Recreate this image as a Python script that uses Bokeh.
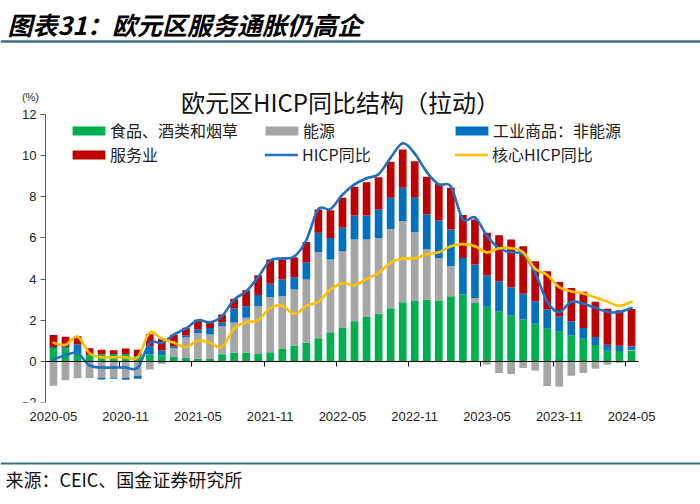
import pandas as pd
from bokeh.plotting import figure
from bokeh.models import (ColumnDataSource, Range1d, FixedTicker, Span, Label,
                          Legend, LegendItem, LinearAxis)
from bokeh.layouts import column
from bokeh.embed import file_html
from bokeh.resources import INLINE

# ---------------- data ----------------
months = [str(m) for m in pd.period_range("2020-05", "2024-05", freq="M")]

food = [0.65, 0.62, 0.37, 0.32, 0.34, 0.36, 0.36, 0.26, 0.33, 0.28,
        0.24, 0.17, 0.13, 0.11, 0.35, 0.42, 0.42, 0.38, 0.44, 0.60,
        0.76, 0.91, 1.12, 1.41, 1.62, 1.95, 2.16, 2.32, 2.58, 2.87,
        2.94, 3.00, 2.96, 3.16, 3.25, 2.84, 2.65, 2.43, 2.24, 2.03,
        1.83, 1.58, 1.46, 1.27, 1.10, 0.80, 0.52, 0.50, 0.52]
energy = [-1.18, -0.92, -0.82, -0.77, -0.80, -0.81, -0.81, -0.70, -0.40, -0.13,
          0.41, 0.99, 1.24, 1.20, 1.36, 1.47, 1.70, 2.30, 2.68, 2.56,
          2.73, 3.07, 4.18, 3.54, 3.73, 3.97, 3.76, 3.68, 3.86, 3.94,
          3.34, 2.44, 2.05, 1.46, -0.07, 0.24, -0.15, -0.57, -0.61, -0.32,
          -0.45, -1.20, -1.22, -0.70, -0.57, -0.36, -0.16, -0.08, 0.03]
neig = [0.05, 0.08, 0.45, -0.03, -0.08, -0.03, -0.08, -0.15, 0.39, 0.26,
        0.08, 0.10, 0.18, 0.31, 0.18, 0.68, 0.56, 0.55, 0.65, 0.82,
        0.60, 0.82, 0.95, 1.05, 1.14, 1.17, 1.17, 1.38, 1.51, 1.63,
        1.67, 1.70, 1.84, 1.79, 1.78, 1.63, 1.52, 1.46, 1.36, 1.26,
        1.09, 0.94, 0.73, 0.68, 0.52, 0.39, 0.29, 0.26, 0.18]
services = [0.58, 0.50, 0.40, 0.32, 0.23, 0.18, 0.27, 0.31, 0.60, 0.56,
            0.56, 0.37, 0.47, 0.30, 0.39, 0.47, 0.78, 0.96, 1.18, 0.97,
            0.96, 1.00, 1.13, 1.35, 1.46, 1.40, 1.62, 1.57, 1.75, 1.86,
            1.78, 1.83, 1.79, 2.03, 2.08, 2.19, 2.08, 2.24, 2.32, 2.31,
            1.95, 1.86, 1.67, 1.62, 1.76, 1.71, 1.75, 1.72, 1.82]
hicp = [0.1, 0.3, 0.4, -0.2, -0.3, -0.3, -0.3, -0.3, 0.9, 0.9,
        1.3, 1.6, 2.0, 1.9, 2.2, 3.0, 3.4, 4.1, 4.9, 5.0,
        5.1, 5.9, 7.4, 7.4, 8.1, 8.6, 8.9, 9.1, 9.9, 10.6,
        10.1, 9.2, 8.6, 8.5, 6.9, 7.0, 6.1, 5.5, 5.3, 5.2,
        4.3, 2.9, 2.4, 2.9, 2.8, 2.6, 2.4, 2.4, 2.6]
core = [0.9, 0.8, 1.2, 0.4, 0.2, 0.2, 0.2, 0.2, 1.4, 1.1,
        0.9, 0.7, 1.0, 0.9, 0.7, 1.6, 1.9, 2.0, 2.6, 2.7,
        2.3, 2.7, 2.9, 3.5, 3.8, 3.7, 4.0, 4.3, 4.8, 5.0,
        5.0, 5.2, 5.3, 5.6, 5.7, 5.6, 5.3, 5.5, 5.5, 5.3,
        4.5, 4.2, 3.6, 3.4, 3.3, 3.1, 2.9, 2.7, 2.9]

comp_names = ["食品、酒类和烟草", "能源", "工业商品：非能源", "服务业"]
comp_values = [food, energy, neig, services]
comp_colors = ["#00B050", "#A6A6A6", "#0070C0", "#C00000"]
line_names = ["HICP同比", "核心HICP同比"]
line_colors = ["#1F72C2", "#FFC000"]

title_text = "图表31：欧元区服务通胀仍高企"
chart_title = "欧元区HICP同比结构（拉动）"
unit_text = "(%)"
source_text = "来源：CEIC、国金证券研究所"

CJK = "Noto Sans CJK SC"
LAT = "Liberation Sans"
RULE = "#3F6E8A"

n = len(months)
xs = list(range(n))
label_idx = [i for i, m in enumerate(months) if m.endswith("-05") or m.endswith("-11")]

# axis extents (data units) and frame geometry (pixels)
X_LO, X_HI = -0.66, 48.58
Y_LO, Y_HI = -2, 12
AX_LEFT_PX, AX_W_PX, RIGHT_PAD_PX = 45, 593, 62
AX_TOP_PX, AX_H_PX = 64, 288

# ---------------- header ----------------
hdr = figure(width=700, height=50, x_range=Range1d(0, 700), y_range=Range1d(0, 50),
             toolbar_location=None, output_backend="svg", min_border=0,
             x_axis_type=None, y_axis_type=None, outline_line_color=None)
hdr.grid.visible = False
hdr.add_layout(Label(x=7, y=27, text=title_text, text_font=CJK, text_font_size="25px",
                     text_font_style="bold italic", text_color="#000000",
                     text_baseline="middle"))
hdr.add_layout(Span(location=9, dimension="width", line_color=RULE, line_width=2.5))

# ---------------- main chart ----------------
px_x = (X_HI - X_LO) / AX_W_PX
x_start = X_LO - AX_LEFT_PX * px_x
x_end = X_HI + RIGHT_PAD_PX * px_x
y_end = Y_HI + AX_TOP_PX * (Y_HI - Y_LO) / AX_H_PX
p = figure(width=700, height=405, x_range=Range1d(x_start, x_end), y_range=Range1d(Y_LO, y_end),
           toolbar_location=None, output_backend="svg",
           min_border_left=0, min_border_right=0, min_border_top=0, min_border_bottom=53,
           outline_line_color=None)
p.grid.visible = False

pos_base = [0.0] * n
neg_base = [0.0] * n
bar_renderers = []
for name, vals, col in zip(comp_names, comp_values, comp_colors):
    bottoms, tops = [], []
    for i, v in enumerate(vals):
        if v >= 0:
            bottoms.append(pos_base[i]); tops.append(pos_base[i] + v); pos_base[i] += v
        else:
            tops.append(neg_base[i]); bottoms.append(neg_base[i] + v); neg_base[i] += v
    src = ColumnDataSource(dict(x=xs, bottom=bottoms, top=tops))
    r = p.vbar(x="x", bottom="bottom", top="top", width=0.64, source=src,
               fill_color=col, line_color=None)
    bar_renderers.append(r)


def smooth_bezier(y):
    m = len(y)
    d = dict(x0=[], y0=[], x1=[], y1=[], cx0=[], cy0=[], cx1=[], cy1=[])
    for i in range(m - 1):
        p0 = (i - 1, y[i - 1]) if i > 0 else (i, y[i])
        p1 = (i, y[i]); p2 = (i + 1, y[i + 1])
        p3 = (i + 2, y[i + 2]) if i + 2 < m else (i + 1, y[i + 1])
        d["x0"].append(p1[0]); d["y0"].append(p1[1])
        d["x1"].append(p2[0]); d["y1"].append(p2[1])
        d["cx0"].append(p1[0] + (p2[0] - p0[0]) / 6); d["cy0"].append(p1[1] + (p2[1] - p0[1]) / 6)
        d["cx1"].append(p2[0] - (p3[0] - p1[0]) / 6); d["cy1"].append(p2[1] - (p3[1] - p1[1]) / 6)
    return ColumnDataSource(d)


line_renderers = []
for vals, col in zip([hicp, core], line_colors):
    r = p.bezier(x0="x0", y0="y0", x1="x1", y1="y1", cx0="cx0", cy0="cy0", cx1="cx1", cy1="cy1",
                 source=smooth_bezier(vals), line_color=col, line_width=2.6, line_cap="round")
    line_renderers.append(r)

# y axis (fixed at the left edge of the value area)
p.yaxis.fixed_location = X_LO
p.yaxis.bounds = (Y_LO, Y_HI)
p.yaxis.ticker = FixedTicker(ticks=list(range(Y_LO, Y_HI + 1, 2)))
p.yaxis.axis_line_color = "#595959"
p.yaxis.major_tick_line_color = "#595959"
p.yaxis.major_tick_in = 0
p.yaxis.major_tick_out = 5
p.yaxis.minor_tick_line_color = None
p.yaxis.major_label_text_font = LAT
p.yaxis.major_label_text_font_size = "13px"
p.yaxis.major_label_text_color = "#222222"
p.yaxis.major_label_standoff = 4

# x axis labels at the bottom
p.xaxis.ticker = FixedTicker(ticks=label_idx)
p.xaxis.major_label_overrides = {i: months[i] for i in label_idx}
p.xaxis.axis_line_color = None
p.xaxis.major_tick_line_color = None
p.xaxis.minor_tick_line_color = None
p.xaxis.major_label_text_font = LAT
p.xaxis.major_label_text_font_size = "13px"
p.xaxis.major_label_text_color = "#222222"
p.xaxis.major_label_standoff = 3

# zero axis with tick marks between categories
tick_x = [i - 0.5 for i in label_idx if i > 0]
zero_axis = LinearAxis(fixed_location=0, bounds=(X_LO, X_HI), ticker=FixedTicker(ticks=tick_x),
                       axis_line_color="#000000", major_tick_line_color="#000000",
                       major_tick_in=0, major_tick_out=5, minor_tick_line_color=None,
                       major_label_text_color=None)
p.add_layout(zero_axis, "below")

# titles inside the frame area
p.add_layout(Label(x=23.84, y=12.62, text=chart_title, text_font=CJK, text_font_size="24px",
                   text_color="#111111", text_align="center", text_baseline="middle"))
p.add_layout(Label(x=-1.91, y=12.83, text=unit_text, text_font=LAT, text_font_size="11px",
                   text_color="#333333", text_align="center", text_baseline="middle"))


def add_legend(label, renderer, loc, gw, standoff):
    lg = Legend(items=[LegendItem(label=label, renderers=[renderer])], location=loc,
                orientation="vertical", glyph_width=gw, glyph_height=11, label_height=20,
                label_standoff=standoff, padding=0, margin=0, spacing=0,
                border_line_color=None, background_fill_alpha=0,
                label_text_font=CJK, label_text_font_size="16px", label_text_color="#222222")
    p.add_layout(lg, "center")


row1, row2 = 260, 236
add_legend(comp_names[0], bar_renderers[0], (68, row1), 41, 1)
add_legend(comp_names[3], bar_renderers[3], (68, row2), 41, 1)
add_legend(comp_names[1], bar_renderers[1], (261, row1), 41, 1)
add_legend(line_names[0], line_renderers[0], (265, row2), 33, 4)
add_legend(comp_names[2], bar_renderers[2], (451, row1), 41, 1)
add_legend(line_names[1], line_renderers[1], (455, row2), 33, 4)

# ---------------- footer ----------------
ftr = figure(width=700, height=49, x_range=Range1d(0, 700), y_range=Range1d(0, 49),
             toolbar_location=None, output_backend="svg", min_border=0,
             x_axis_type=None, y_axis_type=None, outline_line_color=None)
ftr.grid.visible = False
ftr.add_layout(Span(location=41, dimension="width", line_color=RULE, line_width=2))
ftr.add_layout(Label(x=5, y=26, text=source_text, text_font=CJK, text_font_size="18px",
                     text_color="#111111", text_baseline="middle"))

layout = column(hdr, p, ftr, spacing=0)
open("out.html", "w").write(file_html(layout, INLINE))
